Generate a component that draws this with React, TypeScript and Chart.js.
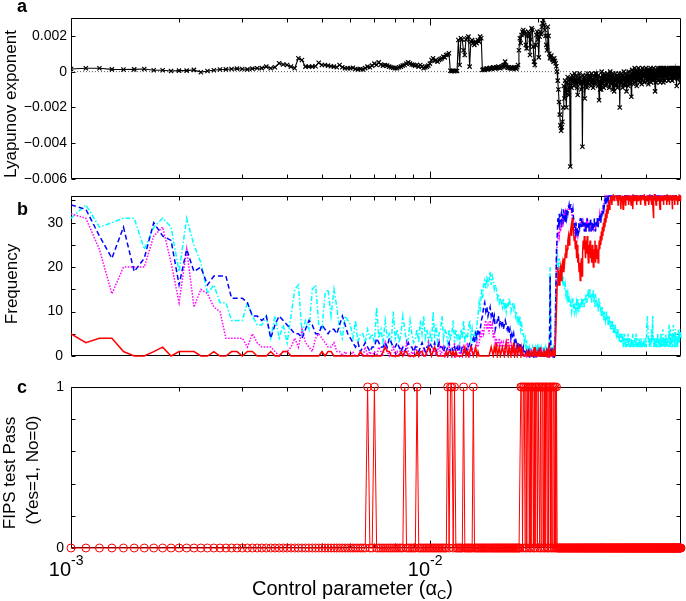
import React, { useEffect, useRef } from "react";
import { Chart, registerables } from "chart.js";
Chart.register(...registerables);

const FONT = "'Liberation Sans', Arial, Helvetica, sans-serif";

// ---------- axis / sampling ----------
const ALPHA_MIN = 0.001;
const ALPHA_STEP = 0.0001;
const ALPHA_COUNT = 491;
const alphaC: number[] = Array.from({ length: ALPHA_COUNT }, (_, i) => +(ALPHA_MIN + ALPHA_STEP * i).toFixed(4));

const xMajorTicks = [0.001, 0.01];
const xMinorTicks = [0.002, 0.003, 0.004, 0.005, 0.006, 0.007, 0.008, 0.009, 0.02, 0.03, 0.04];
const lyapTicks = [-0.006, -0.004, -0.002, 0, 0.002];
const lyapTickLabels = ["\u22120.006", "\u22120.004", "\u22120.002", "0", "0.002"];
const freqTicks = [0, 5, 10, 15, 20, 25, 30, 35];
const freqLabelValues = [0, 10, 20, 30];
const fipsTicks = [0, 0.2, 0.4, 0.6, 0.8, 1];
const fipsLabelValues = [0, 1];

// ---------- panel a: Lyapunov exponent (units of 1e-4) ----------
const lyapunovE4 = [
  1.5,1.9,1.9,1.3,1.2,1.3,1.5,0.8,0.8,0.4,
  0.6,0.6,1.0,-0.3,0.4,0.8,1.2,1.3,1.5,1.7,
  1.5,1.3,1.7,1.9,2.0,2.8,1.9,2.5,4.7,4.0,
  3.7,2.8,1.9,7.5,6.5,2.8,2.8,2.8,3.0,5.0,
  3.7,3.7,3.4,3.0,2.8,2.5,3.7,2.5,1.9,1.9,
  1.9,2.2,1.5,1.3,1.5,1.3,2.0,2.8,2.5,3.4,
  4.5,3.7,5.2,4.0,3.4,3.7,3.4,2.8,2.5,2.2,
  1.9,1.9,2.5,2.8,3.4,3.7,4.5,5.2,4.5,4.0,
  3.7,3.4,3.7,2.8,3.7,2.8,1.9,2.5,2.8,3.4,
  4.5,6.5,7.5,6.0,6.5,5.6,6.5,7.0,7.5,8.4,
  8.0,9.3,9.5,10.3,0.5,0.3,0.5,0.3,0.5,0.4,
  17.7,3.7,18.7,18.0,12.0,9.3,18.0,18.7,19.6,2.8,
  16.8,17.7,15.9,15.0,16.8,15.9,17.7,16.8,19.6,18.7,
  0.9,1.3,0.9,1.5,1.9,1.3,1.7,2.2,1.5,1.9,
  2.5,2.2,1.7,2.5,2.2,2.8,2.2,1.9,2.5,2.8,
  3.4,3.7,5.6,3.4,2.5,2.2,2.5,1.9,2.2,1.7,
  2.2,1.9,2.5,2.2,1.5,2.5,3.7,12,18.7,16,
  20.5,22.3,23.3,21,22.3,15,13,20,22.3,21.4,
  9.3,18,24.2,23.3,14,5.6,3.7,15,20.5,22.3,
  18,8,19.6,22.3,21,25,27,28.9,26,23.3,
  20,15,12,25.1,20,10,7.5,8.4,9,7,
  6.5,5.6,7.5,6,4.7,3,0,-5,-10,-17,
  -24,-30,-33,-31,-28,-20,-8,-15,-5,-12,
  -20,-6,-3,-10,-13,-4,-53,-4,-9,-2,
  -6,-3,-8,-1,-5,-7,-2,-9,-13,-4,
  -6,-1,-7,-3,-10,-5,-42,-2,-6,-3,
  -15,-8,-2,-5,-9,-1,-4,-7,-2,-5,
  -3,-8,-1,-6,-4,-9,-2,-5,-7,-1,
  -3,-1,-6,-4,-8,-2,-16,-5,-10,-3,
  -10,0,-4,-7,-2,-9,-1,-5,-3,-8,
  -2,-7,-1,-4,-6,-2,-9,-3,0,-5,
  -7,-2,-4,-10,-1,-6,-11,-3,-5,-1,
  -8,-4,-2,-9,-3,-6,-1,-5,-20,-3,
  -7,-1,-6,-4,-9,-2,-5,0,-7,-3,
  -8,-1,-4,-11,-2,-6,-3,-8,0,-5,
  -2,-7,-3,-1,-14,-3,1,-5,-2,-7,
  0,-4,2,-6,-1,-3,1,-8,-2,0,
  -5,2,-3,-1,-6,-3,1,-4,0,-7,
  -2,2,-5,-1,-3,1,-6,-2,0,-4,
  2,-3,-1,-5,1,-2,-7,0,-3,1,
  -4,-1,2,-6,-2,0,-3,1,-5,-1,
  2,-4,0,-2,-11,-1,-6,1,-3,0,
  -4,2,-2,-5,1,-1,-3,2,-6,0,
  -2,1,-4,-1,2,-3,0,-6,-1,2,
  -2,-5,1,-3,0,-2,2,-4,-1,1,
  -3,0,-5,2,-1,-2,1,-4,0,2,
  -3,-1,1,-5,-2,0,2,-3,-1,1,
  -4,0,2,-2,-1,1,-3,-8,0,2,
  -2,1,-4,-1,2,0,-3,1,-6,2,
  0,
];
const zeroLine = [0, 0];

// ---------- panel b: frequency ----------
const freqRed = [
  5,3,4,4,1,0,0,1,2,0, 1,1,1,0,0,1,0,0,1,1, 0,1,1,0,0,0,1,0,0,1, 1,0,0,0,0,0,0,0,0,0,
  1,0,1,1,0,0,0,0,0,0, 0,0,0,0,1,0,0,0,0,0, 0,0,0,0,1,2,1,1,0,0, 0,0,0,1,0,1,1,0,0,0,
  0,0,1,0,1,1,0,0,1,2, 1,0,1,2,1,0,0,0,0,0, 0,1,0,1,1,0,1,0,1,0, 0,0,0,0,1,2,0,1,0,1,
  2,1,0,1,2,0,1,0,0,0, 0,0,0,0,0,0,0,1,2,1, 0,2,1,3,0,1,2,0,1,2, 1,0,2,3,1,0,2,1,0,2,
  1,3,0,1,2,0,1,2,1,0, 2,1,0,0,0,0,1,0,0,1, 0,0,1,0,0,2,0,1,0,0, 1,0,0,2,0,1,0,0,1,0,
  0,1,0,0,2,0,1,0,0,1, 0,1,0,0,0,11,16,20,18,16, 19,20,17,20,21,19,22,21,23,25, 22,24,26,27,25,27,28,29,27,31,
  30,28,26,27,24,26,22,25,21,23, 19,21,17,20,22,18,23,26,24,27, 25,22,26,23,27,24,21,25,23,26, 22,24,21,25,23,20,24,22,26,21,
  23,25,22,24,21,23,26,24,27,25, 28,26,29,27,30,28,31,29,32,30, 33,31,34,32,33,35,33,34,36,35, 36,34,36,35,36,36,35,36,36,36,
  36,36,35,36,34,36,36,35,36,36, 33,36,35,36,36,33,36,35,36,36, 34,36,36,35,36,36,36,34,36,35, 36,36,36,34,36,35,36,33,36,36,
  35,36,36,36,35,36,34,36,36,36, 35,36,36,35,36,36,34,36,36,35, 36,36,36,36,35,36,36,34,36,36, 35,36,36,35,36,36,36,34,36,35,
  36,36,36,35,36,34,36,36,33,31, 35,36,36,35,36,36,34,36,36,35, 36,36,36,36,35,36,34,33,36,36, 35,36,36,35,36,36,36,34,36,36,
  35,36,36,36,35,36,36,34,36,36, 36,35,36,36,34,36,36,35,36,36, 36,36,35,33,36,36,35,36,36,36, 34,36,36,35,36,36,36,35,36,36,
  34,36,36,35,36,36,36,35,36,36, 36,
];
const freqBlue = [
  34,33,27,22,29,19,22,30,27,26, 16,24,19,20,16,18,18,18,13,13, 13,12,9,9,8,9,4,7,9,8, 7,6,5,5,4,6,8,7,5,5,
  7,6,5,6,6,5,7,9,7,5, 4,3,2,3,1,2,3,2,1,2, 2,4,3,2,2,3,2,4,3,2, 2,3,2,1,2,1,2,3,2,2,
  1,2,2,1,2,3,2,1,2,2, 3,2,2,3,1,2,3,2,2,1, 2,1,2,3,1,2,1,2,1,2, 1,2,1,2,2,1,2,1,2,3,
  2,3,4,3,5,4,6,5,6,8, 9,11,12,10,11,9,10,11,9,10, 8,9,6,7,8,9,7,8,7,8, 6,7,8,7,6,7,5,6,4,5,
  4,5,3,4,3,2,3,2,3,2, 2,1,2,1,1,0,1,0,1,0, 1,0,0,1,0,1,0,1,0,0, 1,0,1,0,0,1,0,0,1,0,
  0,1,0,1,0,0,18,1,0,1, 0,1,0,2,12,24,27,31,30,32, 30,31,32,30,31,33,31,32,30,32, 31,33,32,33,34,33,34,34,33,32,
  33,31,30,29,28,30,28,29,27,28, 30,29,31,30,29,31,30,29,30,28, 29,30,28,29,31,29,30,28,30,29, 31,28,29,30,28,30,29,31,29,28,
  30,29,31,30,29,31,30,32,31,30, 32,31,33,32,34,33,34,35,34,35, 36,35,36,36,35,36,36,36,36,36, 36,36,36,36,36,36,36,36,36,36,
  36,36,36,36,36,36,36,36,36,36, 36,36,36,36,36,36,36,36,36,36, 36,36,36,36,36,36,36,36,36,36, 36,36,36,36,36,36,36,36,36,36,
  36,36,36,36,36,36,36,36,36,36, 36,36,36,36,36,36,36,36,36,36, 36,36,36,36,36,36,36,36,36,36, 36,36,36,36,36,36,36,36,36,36,
  36,36,36,36,36,36,36,36,36,36, 36,36,36,36,36,36,36,36,36,36, 36,36,36,36,36,36,36,36,36,36, 36,36,36,36,36,36,36,36,36,36,
  36,36,36,36,36,36,36,36,36,36, 36,36,36,36,36,36,36,36,36,36, 36,36,36,36,36,36,36,36,36,36, 36,36,36,36,36,36,36,36,36,36,
  36,36,36,36,36,36,36,36,36,36, 36,
];
const freqMagenta = [
  32,31,24,14,20,20,20,27,29,21, 12,24,11,15,14,11,10,4,4,4, 4,2,5,3,2,2,2,1,0,1, 1,2,4,2,6,3,2,1,4,5,
  4,3,2,2,3,1,1,0,1,0, 0,1,0,0,1,0,2,0,1,0, 1,0,2,1,0,3,1,0,1,2, 0,1,0,2,1,0,3,1,0,1,
  0,2,1,0,1,0,2,1,0,3, 1,0,2,1,0,1,3,0,1,2, 0,1,0,2,1,0,1,3,0,1, 2,0,1,0,2,1,0,3,1,0,
  1,2,0,1,2,3,2,3,5,4, 6,5,7,8,6,7,5,8,6,7, 4,5,3,4,2,3,4,2,3,2, 3,2,1,3,2,4,2,1,3,2,
  1,2,3,1,2,1,0,2,1,0, 1,0,1,0,0,1,0,1,0,0, 0,1,0,0,1,0,0,1,0,1, 0,0,1,0,1,0,0,1,0,0,
  1,0,0,1,0,1,0,0,1,0, 0,0,1,4,14,22,25,26,28,27, 29,28,30,29,31,30,31,32,31,33, 32,32,33,34,33,33,34,33,32,31,
  32,30,29,28,27,29,28,28,27,28, 29,30,30,31,30,30,29,30,29,29, 30,28,29,30,29,30,29,29,30,28, 29,30,29,29,30,29,30,30,28,29,
  30,30,29,31,30,30,31,32,31,31, 32,32,33,33,34,34,35,35,35,36, 36,36,35,36,36,36,36,36,36,36, 36,36,36,36,36,36,36,36,36,36,
  36,36,36,36,36,36,36,36,36,36, 36,36,36,36,36,36,36,36,36,36, 36,36,36,36,36,36,36,36,36,36, 36,36,36,36,36,36,36,36,36,36,
  36,36,36,36,36,36,36,36,36,36, 36,36,36,36,36,36,36,36,36,36, 36,36,36,36,36,36,36,36,36,36, 36,36,36,36,36,36,36,36,36,36,
  36,36,36,36,36,36,36,36,36,36, 36,36,36,36,36,36,36,36,36,36, 36,36,36,36,36,36,36,36,36,36, 36,36,36,36,36,36,36,36,36,36,
  36,36,36,36,36,36,36,36,36,36, 36,36,36,36,36,36,36,36,36,36, 36,36,36,36,36,36,36,36,36,36, 36,36,36,36,36,36,36,36,36,36,
  36,36,36,36,36,36,36,36,36,36, 36,
];
const freqCyan = [
  31,34,29,30,31,31,24,29,31,29, 19,31,25,21,14,16,12,12,8,8, 8,12,9,7,7,9,4,9,4,7, 3,9,15,16,5,8,6,15,16,7,
  6,14,15,9,15,11,6,4,9,8, 7,4,8,3,5,5,3,6,4,5, 3,11,4,6,3,8,4,5,3,10, 4,6,3,5,9,6,3,4,8,5,
  3,4,6,3,8,5,9,4,6,3, 5,3,10,4,7,3,5,6,9,4, 6,5,3,6,4,5,8,3,6,4, 5,3,6,4,8,3,5,4,6,8,
  4,6,3,5,4,7,9,12,10,15, 13,16,17,15,18,16,17,19,16,18, 17,15,16,15,13,14,12,13,12,11, 13,11,12,10,12,11,13,12,10,11,
  12,10,11,9,10,8,9,7,9,6, 7,5,5,3,4,2,3,2,1,2, 1,2,1,2,1,2,1,2,1,2, 1,2,1,1,2,1,2,1,2,1,
  2,1,2,1,1,2,20,2,1,2, 1,2,1,8,15,20,23,22,20,22, 19,20,18,19,17,18,16,15,16,14, 15,13,14,12,13,12,11,12,10,11,
  13,11,10,12,11,10,12,11,13,11, 12,10,12,11,13,12,11,13,12,11, 13,12,14,13,12,14,15,13,14,15, 13,14,12,14,13,15,12,13,11,14,
  12,13,11,12,10,13,11,12,10,11, 9,10,11,9,10,8,10,9,8,9, 10,8,9,7,8,9,7,8,6,8, 7,6,8,7,5,7,6,5,7,6,
  5,6,4,5,6,4,5,3,5,4, 3,5,4,3,5,2,4,3,5,3, 2,4,3,2,4,3,5,2,3,4, 2,3,2,4,3,2,3,5,2,3,
  2,4,3,2,3,5,2,4,3,2, 3,2,4,3,2,3,2,4,2,3, 2,3,2,4,3,2,3,2,4,3, 2,5,8,9,7,5,3,4,2,3,
  4,3,2,4,6,3,5,9,4,3, 2,4,3,2,3,4,2,3,4,2, 3,5,3,2,4,3,2,4,3,2, 5,3,4,2,3,6,3,2,4,3,
  2,4,2,3,5,2,3,4,2,3, 4,2,3,7,4,3,2,6,3,4, 2,3,5,2,4,3,7,4,3,2, 5,3,6,4,2,3,5,3,4,2,
  3,4,6,3,5,3,4,6,4,5, 4,
];

// ---------- panel c: FIPS pass (indices into alphaC where test passed) ----------
const fipsPassIdx = [
  57, 60, 75, 82, 102, 104, 105, 107, 114, 122,
  169, 170, 172, 173, 175, 177, 178, 180, 182, 183, 185, 187, 188, 190, 191, 193,
  195, 196, 198, 200, 201, 203, 205, 206, 208, 210, 211, 213, 215,
];

type Deco = {
  offset: number;
  letter: string;
  letterY: number;
  yTickValues: number[];
  yLabels: [number, string][];
  yLabelRight: number;
  titles: { text: string; x: number; y: number }[];
  xLabels: boolean;
};

function decoPlugin(d: Deco) {
  return {
    id: "deco",
    beforeDatasetsDraw(chart: any) {
      const ctx: CanvasRenderingContext2D = chart.ctx;
      const { left, right, top, bottom } = chart.chartArea;
      const xs = chart.scales.x;
      const ys = chart.scales.y;
      const L = Math.round(left) + 0.5;
      const R = Math.round(right) - 0.5;
      const T = Math.round(top) + 0.5;
      const B = Math.round(bottom) - 0.5;
      ctx.save();
      ctx.strokeStyle = "#000";
      ctx.lineWidth = 1;
      ctx.beginPath();
      ctx.rect(L, T, R - L, B - T);
      for (const v of xMinorTicks) {
        const p = Math.round(xs.getPixelForValue(v)) + 0.5;
        ctx.moveTo(p, T); ctx.lineTo(p, T + 4);
        ctx.moveTo(p, B); ctx.lineTo(p, B - 4);
      }
      for (const v of xMajorTicks) {
        const p = Math.round(xs.getPixelForValue(v)) + 0.5;
        ctx.moveTo(p, T); ctx.lineTo(p, T + 7);
        ctx.moveTo(p, B); ctx.lineTo(p, B - 7);
      }
      for (const v of d.yTickValues) {
        const p = Math.round(ys.getPixelForValue(v)) + 0.5;
        ctx.moveTo(L, p); ctx.lineTo(L + 4, p);
        ctx.moveTo(R, p); ctx.lineTo(R - 4, p);
      }
      ctx.stroke();

      ctx.fillStyle = "#000";
      ctx.font = `14px ${FONT}`;
      ctx.textAlign = "right";
      ctx.textBaseline = "middle";
      for (const [v, t] of d.yLabels) ctx.fillText(t, d.yLabelRight, ys.getPixelForValue(v));

      ctx.font = `17px ${FONT}`;
      ctx.textAlign = "center";
      ctx.textBaseline = "middle";
      for (const t of d.titles) {
        ctx.save();
        ctx.translate(t.x, t.y - d.offset);
        ctx.rotate(-Math.PI / 2);
        ctx.fillText(t.text, 0, 0);
        ctx.restore();
      }

      ctx.font = `bold 18px ${FONT}`;
      ctx.textAlign = "left";
      ctx.textBaseline = "alphabetic";
      ctx.fillText(d.letter, 17, d.letterY - d.offset);

      if (d.xLabels) {
        for (const v of xMajorTicks) {
          const p = xs.getPixelForValue(v);
          const e = Math.round(Math.log10(v));
          ctx.font = `20px ${FONT}`;
          const w10 = ctx.measureText("10").width;
          const supX = p;
          ctx.fillText("10", supX - w10, 576 - d.offset);
          ctx.font = `14px ${FONT}`;
          ctx.fillText(String(e), supX, 565 - d.offset);
        }
        let x = 252;
        const base = 595 - d.offset;
        const t1 = "Control parameter (\u03b1";
        ctx.font = `20px ${FONT}`;
        ctx.fillText(t1, x, base);
        x += ctx.measureText(t1).width;
        ctx.font = `13px ${FONT}`;
        ctx.fillText("C", x, base + 4);
        x += ctx.measureText("C").width;
        ctx.font = `20px ${FONT}`;
        ctx.fillText(")", x, base);
      }
      ctx.restore();
    },
  };
}

const toPoints = (vals: number[], k = 1) => vals.map((v, i) => ({ x: alphaC[i], y: v * k }));

function baseOptions(yMin: number, yMax: number, padTop: number, padBottom: number): any {
  return {
    animation: false,
    responsive: false,
    devicePixelRatio: 1,
    events: [],
    layout: { padding: { left: 71, right: 5, top: padTop, bottom: padBottom } },
    plugins: { legend: { display: false }, tooltip: { enabled: false } },
    scales: {
      x: { type: "logarithmic", min: 0.001, max: 0.05, display: false },
      y: { type: "linear", min: yMin, max: yMax, display: false },
    },
    elements: { line: { tension: 0 } },
  };
}

export default function App() {
  const aRef = useRef<HTMLCanvasElement>(null);
  const bRef = useRef<HTMLCanvasElement>(null);
  const cRef = useRef<HTMLCanvasElement>(null);

  useEffect(() => {
    const charts: Chart[] = [];

    // panel a
    charts.push(
      new Chart(aRef.current as HTMLCanvasElement, {
        type: "line",
        data: {
          datasets: [
            {
              data: toPoints(lyapunovE4, 1e-4),
              borderColor: "#000",
              borderWidth: 1.1,
              pointStyle: "crossRot",
              pointRadius: 3,
              pointBorderWidth: 1.2,
              pointBorderColor: "#000",
              pointBackgroundColor: "#000",
            },
            {
              data: [
                { x: 0.001, y: zeroLine[0] },
                { x: 0.05, y: zeroLine[1] },
              ],
              borderColor: "#555",
              borderWidth: 1,
              borderDash: [1, 2],
              pointRadius: 0,
            },
          ],
        } as any,
        options: baseOptions(-0.006, 0.003, 18, 7),
        plugins: [
          decoPlugin({
            offset: 0,
            letter: "a",
            letterY: 12,
            yTickValues: lyapTicks,
            yLabels: lyapTicks.map((v, i) => [v, lyapTickLabels[i]] as [number, string]),
            yLabelRight: 67,
            titles: [{ text: "Lyapunov exponent", x: 11, y: 104 }],
            xLabels: false,
          }),
        ],
      })
    );

    // panel b
    const lineCommon = { borderWidth: 1.5, pointRadius: 0, clip: 2 };
    charts.push(
      new Chart(bRef.current as HTMLCanvasElement, {
        type: "line",
        data: {
          datasets: [
            { ...lineCommon, data: toPoints(freqRed), borderColor: "#ff0000" },
            { ...lineCommon, data: toPoints(freqBlue), borderColor: "#0000ff", borderDash: [5, 3] },
            { ...lineCommon, data: toPoints(freqMagenta), borderColor: "#ff00ff", borderDash: [1.5, 1.5] },
            { ...lineCommon, data: toPoints(freqCyan), borderColor: "#00ffff", borderDash: [5, 2, 1.5, 2] },
          ],
        } as any,
        options: baseOptions(0, 36, 10, 8),
        plugins: [
          decoPlugin({
            offset: 186,
            letter: "b",
            letterY: 215,
            yTickValues: freqTicks,
            yLabels: freqLabelValues.map((v) => [v, String(v)] as [number, string]),
            yLabelRight: 63,
            titles: [{ text: "Frequency", x: 12, y: 284 }],
            xLabels: false,
          }),
        ],
      })
    );

    // panel c
    const fipsValues = alphaC.map((_, i) => (fipsPassIdx.includes(i) ? 1 : 0));
    charts.push(
      new Chart(cRef.current as HTMLCanvasElement, {
        type: "line",
        data: {
          datasets: [
            {
              data: toPoints(fipsValues),
              borderColor: "#ff0000",
              borderWidth: 1,
              pointStyle: "circle",
              pointRadius: 4,
              pointBorderWidth: 1,
              pointBorderColor: "#ff0000",
              pointBackgroundColor: "rgba(0,0,0,0)",
              clip: false,
            },
          ],
        } as any,
        options: baseOptions(0, 1, 23, 53),
        plugins: [
          decoPlugin({
            offset: 364,
            letter: "c",
            letterY: 393,
            yTickValues: fipsTicks,
            yLabels: fipsLabelValues.map((v) => [v, String(v)] as [number, string]),
            yLabelRight: 64,
            titles: [
              { text: "FIPS test Pass", x: 10, y: 473 },
              { text: "(Yes=1, No=0)", x: 33, y: 470 },
            ],
            xLabels: true,
          }),
        ],
      })
    );

    return () => charts.forEach((c) => c.destroy());
  }, []);

  return (
    <div style={{ position: "absolute", left: 0, top: 0, width: 686, height: 601, background: "#fff", overflow: "hidden" }}>
      <canvas ref={aRef} width={686} height={186} style={{ position: "absolute", left: 0, top: 0 }} />
      <canvas ref={bRef} width={686} height={178} style={{ position: "absolute", left: 0, top: 186 }} />
      <canvas ref={cRef} width={686} height={237} style={{ position: "absolute", left: 0, top: 364 }} />
    </div>
  );
}
